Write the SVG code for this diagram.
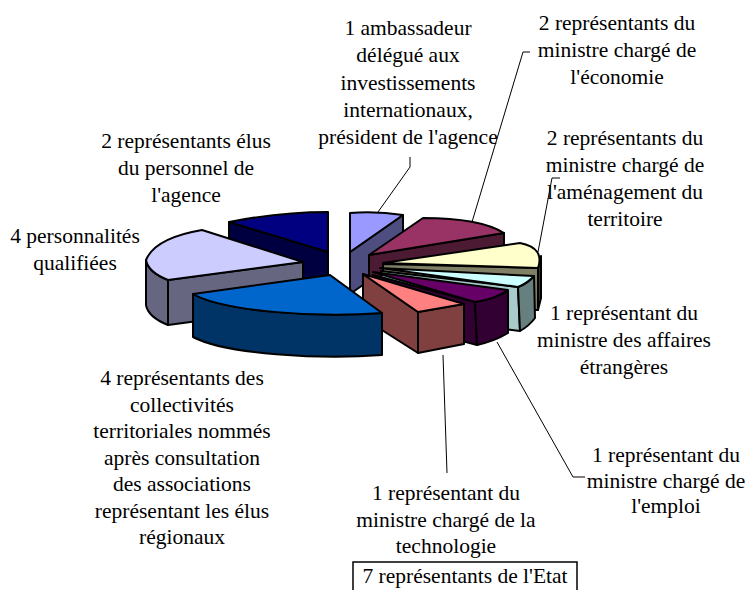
<svg xmlns="http://www.w3.org/2000/svg" width="749" height="590" viewBox="0 0 749 590">
<style>
.s{stroke:#000;stroke-width:2;stroke-linejoin:round}
.t{font-family:"Liberation Serif","Times New Roman",serif;font-size:21.5px;fill:#000;text-anchor:middle}
.l{fill:none;stroke:#000;stroke-width:1}
</style>
<rect width="749" height="590" fill="#fff"/>
<g id="slice-navy">
<path class="s" fill="#000040" d="M229,222 L328,252 L328,294 L229,264 Z"/>
<path class="s" fill="#000080" d="M229,222 Q280,212 328,212 L328,252 Z"/>
</g>
<g id="slice-ambassadeur">
<path class="s" fill="#4D4D80" d="M350,252 L403,215 L403,257 L350,294 Z"/>
<path class="s" fill="#9999FF" d="M350,213 Q377,211 403,215 L350,252 Z"/>
</g>
<g id="slice-economie">
<path class="s" fill="#4D1A33" d="M369,255 L504,233 L504,275 L369,297 Z"/>
<path class="s" fill="#993366" d="M369,255 L423,218 Q480,218 504,233 Z"/>
</g>
<g id="slice-amenagement">
<path class="s" fill="#808066" d="M383,264 L538,268 L538,310 L383,306 Z"/>
<path class="s" fill="#333326" d="M541,256 L541,298 L538,310 L538,268 Z"/>
<path class="s" fill="#FFFFCC" d="M383,263 L520,243 Q545,248 538,268 Z"/>
</g>
<g id="slice-affaires">
<path class="s" fill="#A8CCCC" d="M381,271 L518,287 L520,331 L383,315 Z"/>
<path class="s" fill="#668080" d="M518,287 Q528,283 534,276 L535,318 Q529,326 520,331 Z"/>
<path class="s" fill="#CCFFFF" d="M380,268 L534,276 Q528,283 518,287 Z"/>
</g>
<g id="slice-emploi">
<path class="s" fill="#330033" d="M373,275 L475,302 L477,345 L373,317 Z"/>
<path class="s" fill="#330033" d="M475,302 Q495,299 508,291 L508,333 Q495,341 477,345 Z"/>
<path class="s" fill="#660066" d="M373,272 L508,290 Q495,299 475,302 Z"/>
</g>
<g id="slice-technologie">
<path class="s" fill="#804040" d="M363,274 L418,312 L418,353 L363,318 Z"/>
<path class="s" fill="#804040" d="M418,312 L464,304 L464,344 L418,353 Z"/>
<path class="s" fill="#FF8080" d="M363,274 L464,304 L418,312 Z"/>
</g>
<g id="slice-personnalites">
<path class="s" fill="#666680" d="M168,280 L303,262 L303,307 L168,325 Z"/>
<path class="s" fill="#666680" d="M146,260 Q148,272 168,280 L168,325 Q148,317 146,305 Z"/>
<path class="s" fill="#CCCCFF" d="M303,262 L202,230 Q155,238 146,260 Q148,272 168,280 Z"/>
</g>
<g id="slice-collectivites">
<path class="s" fill="#003366" d="M193,294 C225,312 320,318 382,313 L382,355 C320,360 225,354 193,337 Z"/>
<path class="s" fill="#0066CC" d="M330,275 L382,313 C320,318 225,312 193,294 Z"/>
</g>
<g id="connectors">
<polyline class="l" points="410,157 410,167 378,212"/>
<polyline class="l" points="530,52 523,52 472,222"/>
<polyline class="l" points="560,178 552,178 538,252"/>
<polyline class="l" points="497,342 573,477 585,477"/>
<polyline class="l" points="443,355 447,473"/>
</g>
<g id="label-ambassadeur">
<text class="t" x="408" y="35">1 ambassadeur</text>
<text class="t" x="408" y="62.3">délégué aux</text>
<text class="t" x="408" y="89.6">investissements</text>
<text class="t" x="408" y="116.9">internationaux,</text>
<text class="t" x="408" y="144.2">président de l'agence</text>
</g>
<g id="label-economie">
<text class="t" x="617" y="30">2 représentants du</text>
<text class="t" x="617" y="57">ministre chargé de</text>
<text class="t" x="617" y="84">l'économie</text>
</g>
<g id="label-amenagement">
<text class="t" x="625" y="145">2 représentants du</text>
<text class="t" x="625" y="172">ministre chargé de</text>
<text class="t" x="625" y="199">l'aménagement du</text>
<text class="t" x="625" y="226">territoire</text>
</g>
<g id="label-affaires">
<text class="t" x="624" y="320">1 représentant du</text>
<text class="t" x="624" y="347">ministre des affaires</text>
<text class="t" x="624" y="374">étrangères</text>
</g>
<g id="label-emploi">
<text class="t" x="666" y="462">1 représentant du</text>
<text class="t" x="666" y="488">ministre chargé de</text>
<text class="t" x="666" y="513">l'emploi</text>
</g>
<g id="label-technologie">
<text class="t" x="446" y="500">1 représentant du</text>
<text class="t" x="446" y="527">ministre chargé de la</text>
<text class="t" x="446" y="553">technologie</text>
</g>
<g id="label-etat">
<rect x="353" y="562" width="224" height="40" fill="none" stroke="#000" stroke-width="1.5"/>
<text class="t" x="465" y="583">7 représentants de l'Etat</text>
</g>
<g id="label-personnel">
<text class="t" x="186" y="148">2 représentants élus</text>
<text class="t" x="186" y="175">du personnel de</text>
<text class="t" x="186" y="202">l'agence</text>
</g>
<g id="label-personnalites">
<text class="t" x="75" y="243">4 personnalités</text>
<text class="t" x="75" y="270">qualifiées</text>
</g>
<g id="label-collectivites">
<text class="t" x="182" y="385">4 représentants des</text>
<text class="t" x="182" y="411.5">collectivités</text>
<text class="t" x="182" y="438">territoriales nommés</text>
<text class="t" x="182" y="464.5">après consultation</text>
<text class="t" x="182" y="491">des associations</text>
<text class="t" x="182" y="517.5">représentant les élus</text>
<text class="t" x="182" y="544">régionaux</text>
</g>
</svg>
